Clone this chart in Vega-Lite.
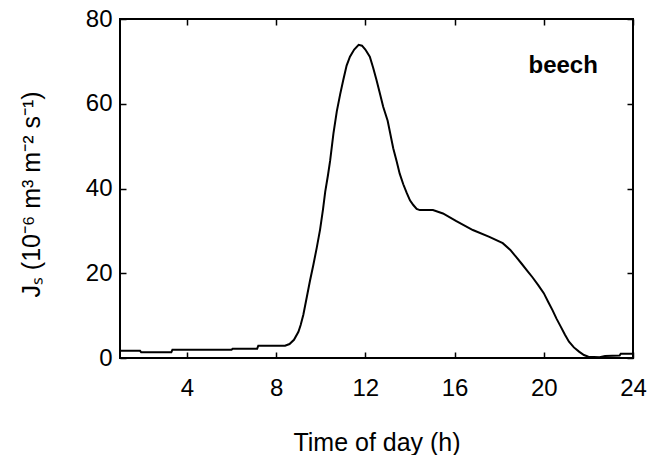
{
  "$schema": "https://vega.github.io/schema/vega-lite/v6.json",
  "width": 513,
  "height": 339,
  "autosize": {"type": "none"},
  "padding": {"left": 120, "top": 19, "right": 15, "bottom": 97},
  "background": "white",
  "config": {
    "view": {"stroke": "black", "strokeWidth": 2},
    "font": "Liberation Sans",
    "axis": {
      "grid": false,
      "domain": false,
      "labelFlush": false,
      "labelOverlap": false,
      "tickColor": "black",
      "tickWidth": 1.5,
      "tickSize": -6,
      "labelColor": "black",
      "labelFont": "Liberation Sans",
      "labelFontSize": 24,
      "titleFont": "Liberation Sans",
      "titleFontWeight": "normal",
      "titleColor": "black"
    }
  },
  "datasets": {
    "flow": [
      {"h": 1.0, "v": 1.7}, {"h": 1.9, "v": 1.7}, {"h": 1.95, "v": 1.35}, {"h": 3.3, "v": 1.35},
      {"h": 3.35, "v": 1.95}, {"h": 6.0, "v": 1.95}, {"h": 6.05, "v": 2.2}, {"h": 7.15, "v": 2.2},
      {"h": 7.2, "v": 2.9}, {"h": 8.4, "v": 2.9}, {"h": 8.6, "v": 3.3}, {"h": 8.8, "v": 4.3},
      {"h": 9.0, "v": 6.2}, {"h": 9.1, "v": 7.8}, {"h": 9.22, "v": 10.2}, {"h": 9.38, "v": 14.5},
      {"h": 9.52, "v": 18.3}, {"h": 9.67, "v": 22.0}, {"h": 9.82, "v": 26.0}, {"h": 9.97, "v": 30.3},
      {"h": 10.1, "v": 35.0}, {"h": 10.2, "v": 39.2}, {"h": 10.32, "v": 43.0}, {"h": 10.42, "v": 46.5},
      {"h": 10.57, "v": 53.0}, {"h": 10.72, "v": 58.2}, {"h": 10.87, "v": 62.2}, {"h": 11.01, "v": 65.6},
      {"h": 11.16, "v": 69.0}, {"h": 11.31, "v": 71.1}, {"h": 11.5, "v": 72.8}, {"h": 11.7, "v": 73.9},
      {"h": 11.85, "v": 73.7}, {"h": 12.0, "v": 72.8}, {"h": 12.2, "v": 71.1}, {"h": 12.35, "v": 68.5},
      {"h": 12.5, "v": 65.6}, {"h": 12.65, "v": 62.5}, {"h": 12.8, "v": 59.3}, {"h": 13.0, "v": 56.0},
      {"h": 13.25, "v": 49.5}, {"h": 13.4, "v": 46.5}, {"h": 13.54, "v": 43.5}, {"h": 13.7, "v": 41.0},
      {"h": 13.85, "v": 39.0}, {"h": 14.0, "v": 37.2}, {"h": 14.15, "v": 36.1}, {"h": 14.3, "v": 35.2},
      {"h": 14.44, "v": 34.9}, {"h": 15.03, "v": 34.9}, {"h": 15.48, "v": 34.1}, {"h": 16.08, "v": 32.3},
      {"h": 16.82, "v": 30.2}, {"h": 17.56, "v": 28.6}, {"h": 18.16, "v": 27.1}, {"h": 18.5, "v": 25.5},
      {"h": 18.75, "v": 23.9}, {"h": 19.0, "v": 22.3}, {"h": 19.27, "v": 20.5}, {"h": 19.5, "v": 19.0},
      {"h": 19.75, "v": 17.2}, {"h": 20.0, "v": 15.3}, {"h": 20.2, "v": 13.2}, {"h": 20.39, "v": 11.3},
      {"h": 20.57, "v": 9.3}, {"h": 20.76, "v": 7.4}, {"h": 20.95, "v": 5.5}, {"h": 21.13, "v": 3.85},
      {"h": 21.35, "v": 2.5}, {"h": 21.58, "v": 1.5}, {"h": 21.8, "v": 0.7}, {"h": 22.0, "v": 0.3},
      {"h": 22.5, "v": 0.2}, {"h": 22.75, "v": 0.5}, {"h": 23.4, "v": 0.6}, {"h": 23.45, "v": 1.0},
      {"h": 24.0, "v": 1.0}
    ],
    "label": [{"name": "beech"}]
  },
  "layer": [
    {
      "data": {"name": "flow"},
      "mark": {"type": "line", "color": "black", "strokeWidth": 2, "clip": true},
      "encoding": {
        "x": {
          "field": "h", "type": "quantitative",
          "scale": {"domain": [1, 24], "nice": false, "zero": false},
          "axis": {
            "orient": "bottom", "values": [4, 8, 12, 16, 20, 24],
            "labelPadding": 24, "title": "Time of day (h)", "titleFontSize": 25,
            "titleBaseline": "alphabetic", "titleY": 92
          }
        },
        "y": {
          "field": "v", "type": "quantitative",
          "scale": {"domain": [0, 80], "nice": false},
          "axis": {
            "orient": "left", "values": [0, 20, 40, 60, 80],
            "labelPadding": 14, "title": "Jₛ (10⁻⁶ m³ m⁻² s⁻¹)", "titleFontSize": 25,
            "titleBaseline": "alphabetic", "titleX": -81, "titleY": 175, "titleAngle": -90
          }
        }
      }
    },
    {
      "data": {"name": "flow"},
      "mark": {"type": "line", "strokeOpacity": 0},
      "encoding": {
        "x": {
          "field": "h", "type": "quantitative",
          "axis": {"orient": "top", "values": [4, 8, 12, 16, 20, 24], "labels": false, "title": null}
        },
        "y": {
          "field": "v", "type": "quantitative",
          "axis": {"orient": "right", "values": [0, 20, 40, 60, 80], "labels": false, "title": null}
        }
      }
    },
    {
      "data": {"name": "label"},
      "mark": {"type": "text", "font": "Liberation Sans", "fontWeight": "bold", "fontSize": 24, "align": "center", "baseline": "alphabetic", "color": "black"},
      "encoding": {
        "x": {"datum": 20.87, "type": "quantitative", "axis": null},
        "y": {"datum": 67.3, "type": "quantitative", "axis": null},
        "text": {"field": "name"}
      }
    }
  ],
  "resolve": {"axis": {"x": "independent", "y": "independent"}}
}
